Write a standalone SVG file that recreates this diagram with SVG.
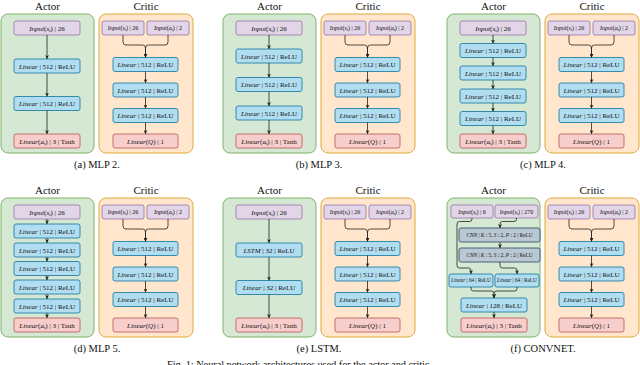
<svg xmlns="http://www.w3.org/2000/svg" width="640" height="365" viewBox="0 0 640 365">
<style>
.t{font-family:"Liberation Serif","Times New Roman",serif;fill:#111}
.n{font-size:7px;text-anchor:middle}
.s{font-size:6px;text-anchor:middle}
.xs{font-size:5.3px;text-anchor:middle}
.ti{font-size:11px;text-anchor:middle}
.cap{font-size:10.5px;text-anchor:middle}
.i{font-style:italic}
.sb{font-size:70%}
.actor{fill:#d5e8d4;stroke:#82b366;stroke-width:1}
.critic{fill:#ffe6cc;stroke:#e0a93a;stroke-width:1}
.pu{fill:#e1d5e7;stroke:#9673a6;stroke-width:0.8}
.bl{fill:#b1ddf0;stroke:#10739e;stroke-width:0.8}
.rd{fill:#f8cecc;stroke:#b85450;stroke-width:0.8}
.gy{fill:#bac8d3;stroke:#23445d;stroke-width:0.8}
.e{fill:none;stroke:#222;stroke-width:0.8;marker-end:url(#arr)}
</style>
<defs>
<marker id="arr" viewBox="0 0 10 10" refX="10" refY="5" markerWidth="4" markerHeight="4" markerUnits="userSpaceOnUse" orient="auto"><path d="M0,0 L10,5 L0,10 L3,5 z" fill="#222"/></marker>
</defs>
<rect width="640" height="365" fill="#fff"/>

<!-- ===== Panel (a) MLP 2 ===== -->
<g id="panel-a" transform="translate(1,0)">
<rect class="actor" x="0" y="14" width="93" height="139" rx="7"/>
<rect class="critic" x="98" y="14" width="94" height="139" rx="7"/>
<text class="t ti" x="46.5" y="9.5">Actor</text>
<text class="t ti" x="145" y="9.5">Critic</text>
<g id="a-actor-in"><rect class="pu" x="13" y="21" width="66" height="14" rx="2"/><text class="t n" x="46" y="30.5"><tspan class="i">Input</tspan>(<tspan class="i">s</tspan><tspan class="sb" dy="1.3">t</tspan><tspan dy="-1.3">) | 26</tspan></text></g>
<g id="a-actor-l1"><rect class="bl" x="13" y="59" width="66" height="14" rx="2"/><text class="t n" x="46" y="68.5"><tspan class="i">Linear</tspan> | 512 | ReLU</text></g>
<g id="a-actor-l2"><rect class="bl" x="13" y="96.5" width="66" height="14" rx="2"/><text class="t n" x="46" y="106"><tspan class="i">Linear</tspan> | 512 | ReLU</text></g>
<g id="a-actor-out"><rect class="rd" x="13" y="134" width="66" height="14" rx="2"/><text class="t n" x="46" y="143.5"><tspan class="i">Linear</tspan>(<tspan class="i">a</tspan><tspan class="sb" dy="1.3">t</tspan><tspan dy="-1.3">) | 3 | Tanh</tspan></text></g>
<g id="a-critic-in-s"><rect class="pu" x="101" y="21" width="42" height="14" rx="2"/><text class="t s" x="122" y="30.2"><tspan class="i">Input</tspan>(<tspan class="i">s</tspan><tspan class="sb" dy="1.2">t</tspan><tspan dy="-1.2">) | 26</tspan></text></g>
<g id="a-critic-in-a"><rect class="pu" x="146" y="21" width="42" height="14" rx="2"/><text class="t s" x="167" y="30.2"><tspan class="i">Input</tspan>(<tspan class="i">a</tspan><tspan class="sb" dy="1.2">t</tspan><tspan dy="-1.2">) | 2</tspan></text></g>
<g id="a-critic-l1"><rect class="bl" x="112" y="57.5" width="65" height="14" rx="2"/><text class="t n" x="144.5" y="67"><tspan class="i">Linear</tspan> | 512 | ReLU</text></g>
<g id="a-critic-l2"><rect class="bl" x="112" y="83" width="65" height="14" rx="2"/><text class="t n" x="144.5" y="92.5"><tspan class="i">Linear</tspan> | 512 | ReLU</text></g>
<g id="a-critic-l3"><rect class="bl" x="112" y="108.5" width="65" height="14" rx="2"/><text class="t n" x="144.5" y="118"><tspan class="i">Linear</tspan> | 512 | ReLU</text></g>
<g id="a-critic-out"><rect class="rd" x="112" y="134" width="65" height="14" rx="2"/><text class="t n" x="144.5" y="143.5"><tspan class="i">Linear</tspan>(<tspan class="i">Q</tspan>) | 1</text></g>
<g id="a-connectors">
<path class="e" d="M46,35 V59"/><path class="e" d="M46,73 V96.5"/><path class="e" d="M46,110.5 V134"/>
<path class="e" d="M122,35 V42 Q122,45 125,45 H141.5 Q144.5,45 144.5,48 V57.5"/>
<path class="e" d="M167,35 V42 Q167,45 164,45 H147.5 Q144.5,45 144.5,48 V57.5"/>
<path class="e" d="M144.5,71.5 V83"/><path class="e" d="M144.5,97 V108.5"/><path class="e" d="M144.5,122.5 V134"/>
</g>
<text class="t cap" x="96" y="168">(a) MLP 2.</text>
</g>

<!-- ===== Panel (b) MLP 3 ===== -->
<g id="panel-b" transform="translate(223,0)">
<rect class="actor" x="0" y="14" width="93" height="139" rx="7"/>
<rect class="critic" x="98" y="14" width="94" height="139" rx="7"/>
<text class="t ti" x="46.5" y="9.5">Actor</text>
<text class="t ti" x="145" y="9.5">Critic</text>
<g id="b-actor-in"><rect class="pu" x="13" y="21" width="66" height="14" rx="2"/><text class="t n" x="46" y="30.5"><tspan class="i">Input</tspan>(<tspan class="i">s</tspan><tspan class="sb" dy="1.3">t</tspan><tspan dy="-1.3">) | 26</tspan></text></g>
<g id="b-actor-l1"><rect class="bl" x="13" y="49" width="66" height="14" rx="2"/><text class="t n" x="46" y="58.5"><tspan class="i">Linear</tspan> | 512 | ReLU</text></g>
<g id="b-actor-l2"><rect class="bl" x="13" y="77.5" width="66" height="14" rx="2"/><text class="t n" x="46" y="87"><tspan class="i">Linear</tspan> | 512 | ReLU</text></g>
<g id="b-actor-l3"><rect class="bl" x="13" y="106" width="66" height="14" rx="2"/><text class="t n" x="46" y="115.5"><tspan class="i">Linear</tspan> | 512 | ReLU</text></g>
<g id="b-actor-out"><rect class="rd" x="13" y="134" width="66" height="14" rx="2"/><text class="t n" x="46" y="143.5"><tspan class="i">Linear</tspan>(<tspan class="i">a</tspan><tspan class="sb" dy="1.3">t</tspan><tspan dy="-1.3">) | 3 | Tanh</tspan></text></g>
<g id="b-critic-in-s"><rect class="pu" x="101" y="21" width="42" height="14" rx="2"/><text class="t s" x="122" y="30.2"><tspan class="i">Input</tspan>(<tspan class="i">s</tspan><tspan class="sb" dy="1.2">t</tspan><tspan dy="-1.2">) | 26</tspan></text></g>
<g id="b-critic-in-a"><rect class="pu" x="146" y="21" width="42" height="14" rx="2"/><text class="t s" x="167" y="30.2"><tspan class="i">Input</tspan>(<tspan class="i">a</tspan><tspan class="sb" dy="1.2">t</tspan><tspan dy="-1.2">) | 2</tspan></text></g>
<g id="b-critic-l1"><rect class="bl" x="112" y="57.5" width="65" height="14" rx="2"/><text class="t n" x="144.5" y="67"><tspan class="i">Linear</tspan> | 512 | ReLU</text></g>
<g id="b-critic-l2"><rect class="bl" x="112" y="83" width="65" height="14" rx="2"/><text class="t n" x="144.5" y="92.5"><tspan class="i">Linear</tspan> | 512 | ReLU</text></g>
<g id="b-critic-l3"><rect class="bl" x="112" y="108.5" width="65" height="14" rx="2"/><text class="t n" x="144.5" y="118"><tspan class="i">Linear</tspan> | 512 | ReLU</text></g>
<g id="b-critic-out"><rect class="rd" x="112" y="134" width="65" height="14" rx="2"/><text class="t n" x="144.5" y="143.5"><tspan class="i">Linear</tspan>(<tspan class="i">Q</tspan>) | 1</text></g>
<g id="b-connectors">
<path class="e" d="M46,35 V49"/><path class="e" d="M46,63 V77.5"/><path class="e" d="M46,91.5 V106"/><path class="e" d="M46,120 V134"/>
<path class="e" d="M122,35 V42 Q122,45 125,45 H141.5 Q144.5,45 144.5,48 V57.5"/>
<path class="e" d="M167,35 V42 Q167,45 164,45 H147.5 Q144.5,45 144.5,48 V57.5"/>
<path class="e" d="M144.5,71.5 V83"/><path class="e" d="M144.5,97 V108.5"/><path class="e" d="M144.5,122.5 V134"/>
</g>
<text class="t cap" x="96" y="168">(b) MLP 3.</text>
</g>

<!-- ===== Panel (c) MLP 4 ===== -->
<g id="panel-c" transform="translate(447,0)">
<rect class="actor" x="0" y="14" width="93" height="139" rx="7"/>
<rect class="critic" x="98" y="14" width="94" height="139" rx="7"/>
<text class="t ti" x="46.5" y="9.5">Actor</text>
<text class="t ti" x="145" y="9.5">Critic</text>
<g id="c-actor-in"><rect class="pu" x="13" y="21" width="66" height="14" rx="2"/><text class="t n" x="46" y="30.5"><tspan class="i">Input</tspan>(<tspan class="i">s</tspan><tspan class="sb" dy="1.3">t</tspan><tspan dy="-1.3">) | 26</tspan></text></g>
<g id="c-actor-l1"><rect class="bl" x="13" y="43.5" width="66" height="14" rx="2"/><text class="t n" x="46" y="53"><tspan class="i">Linear</tspan> | 512 | ReLU</text></g>
<g id="c-actor-l2"><rect class="bl" x="13" y="66" width="66" height="14" rx="2"/><text class="t n" x="46" y="75.5"><tspan class="i">Linear</tspan> | 512 | ReLU</text></g>
<g id="c-actor-l3"><rect class="bl" x="13" y="89" width="66" height="14" rx="2"/><text class="t n" x="46" y="98.5"><tspan class="i">Linear</tspan> | 512 | ReLU</text></g>
<g id="c-actor-l4"><rect class="bl" x="13" y="111.5" width="66" height="14" rx="2"/><text class="t n" x="46" y="121"><tspan class="i">Linear</tspan> | 512 | ReLU</text></g>
<g id="c-actor-out"><rect class="rd" x="13" y="134" width="66" height="14" rx="2"/><text class="t n" x="46" y="143.5"><tspan class="i">Linear</tspan>(<tspan class="i">a</tspan><tspan class="sb" dy="1.3">t</tspan><tspan dy="-1.3">) | 3 | Tanh</tspan></text></g>
<g id="c-critic-in-s"><rect class="pu" x="101" y="21" width="42" height="14" rx="2"/><text class="t s" x="122" y="30.2"><tspan class="i">Input</tspan>(<tspan class="i">s</tspan><tspan class="sb" dy="1.2">t</tspan><tspan dy="-1.2">) | 26</tspan></text></g>
<g id="c-critic-in-a"><rect class="pu" x="146" y="21" width="42" height="14" rx="2"/><text class="t s" x="167" y="30.2"><tspan class="i">Input</tspan>(<tspan class="i">a</tspan><tspan class="sb" dy="1.2">t</tspan><tspan dy="-1.2">) | 2</tspan></text></g>
<g id="c-critic-l1"><rect class="bl" x="112" y="57.5" width="65" height="14" rx="2"/><text class="t n" x="144.5" y="67"><tspan class="i">Linear</tspan> | 512 | ReLU</text></g>
<g id="c-critic-l2"><rect class="bl" x="112" y="83" width="65" height="14" rx="2"/><text class="t n" x="144.5" y="92.5"><tspan class="i">Linear</tspan> | 512 | ReLU</text></g>
<g id="c-critic-l3"><rect class="bl" x="112" y="108.5" width="65" height="14" rx="2"/><text class="t n" x="144.5" y="118"><tspan class="i">Linear</tspan> | 512 | ReLU</text></g>
<g id="c-critic-out"><rect class="rd" x="112" y="134" width="65" height="14" rx="2"/><text class="t n" x="144.5" y="143.5"><tspan class="i">Linear</tspan>(<tspan class="i">Q</tspan>) | 1</text></g>
<g id="c-connectors">
<path class="e" d="M46,35 V43.5"/><path class="e" d="M46,57.5 V66"/><path class="e" d="M46,80 V89"/><path class="e" d="M46,103 V111.5"/><path class="e" d="M46,125.5 V134"/>
<path class="e" d="M122,35 V42 Q122,45 125,45 H141.5 Q144.5,45 144.5,48 V57.5"/>
<path class="e" d="M167,35 V42 Q167,45 164,45 H147.5 Q144.5,45 144.5,48 V57.5"/>
<path class="e" d="M144.5,71.5 V83"/><path class="e" d="M144.5,97 V108.5"/><path class="e" d="M144.5,122.5 V134"/>
</g>
<text class="t cap" x="96" y="168">(c) MLP 4.</text>
</g>

<!-- ===== Panel (d) MLP 5 ===== -->
<g id="panel-d" transform="translate(1,184)">
<rect class="actor" x="0" y="14" width="93" height="139" rx="7"/>
<rect class="critic" x="98" y="14" width="94" height="139" rx="7"/>
<text class="t ti" x="46.5" y="9.5">Actor</text>
<text class="t ti" x="145" y="9.5">Critic</text>
<g id="d-actor-in"><rect class="pu" x="13" y="21" width="66" height="14" rx="2"/><text class="t n" x="46" y="30.5"><tspan class="i">Input</tspan>(<tspan class="i">s</tspan><tspan class="sb" dy="1.3">t</tspan><tspan dy="-1.3">) | 26</tspan></text></g>
<g id="d-actor-l1"><rect class="bl" x="13" y="40" width="66" height="14" rx="2"/><text class="t n" x="46" y="49.5"><tspan class="i">Linear</tspan> | 512 | ReLU</text></g>
<g id="d-actor-l2"><rect class="bl" x="13" y="59" width="66" height="14" rx="2"/><text class="t n" x="46" y="68.5"><tspan class="i">Linear</tspan> | 512 | ReLU</text></g>
<g id="d-actor-l3"><rect class="bl" x="13" y="77.5" width="66" height="14" rx="2"/><text class="t n" x="46" y="87"><tspan class="i">Linear</tspan> | 512 | ReLU</text></g>
<g id="d-actor-l4"><rect class="bl" x="13" y="96" width="66" height="14" rx="2"/><text class="t n" x="46" y="105.5"><tspan class="i">Linear</tspan> | 512 | ReLU</text></g>
<g id="d-actor-l5"><rect class="bl" x="13" y="115" width="66" height="14" rx="2"/><text class="t n" x="46" y="124.5"><tspan class="i">Linear</tspan> | 512 | ReLU</text></g>
<g id="d-actor-out"><rect class="rd" x="13" y="134" width="66" height="14" rx="2"/><text class="t n" x="46" y="143.5"><tspan class="i">Linear</tspan>(<tspan class="i">a</tspan><tspan class="sb" dy="1.3">t</tspan><tspan dy="-1.3">) | 3 | Tanh</tspan></text></g>
<g id="d-critic-in-s"><rect class="pu" x="101" y="21" width="42" height="14" rx="2"/><text class="t s" x="122" y="30.2"><tspan class="i">Input</tspan>(<tspan class="i">s</tspan><tspan class="sb" dy="1.2">t</tspan><tspan dy="-1.2">) | 26</tspan></text></g>
<g id="d-critic-in-a"><rect class="pu" x="146" y="21" width="42" height="14" rx="2"/><text class="t s" x="167" y="30.2"><tspan class="i">Input</tspan>(<tspan class="i">a</tspan><tspan class="sb" dy="1.2">t</tspan><tspan dy="-1.2">) | 2</tspan></text></g>
<g id="d-critic-l1"><rect class="bl" x="112" y="57.5" width="65" height="14" rx="2"/><text class="t n" x="144.5" y="67"><tspan class="i">Linear</tspan> | 512 | ReLU</text></g>
<g id="d-critic-l2"><rect class="bl" x="112" y="83" width="65" height="14" rx="2"/><text class="t n" x="144.5" y="92.5"><tspan class="i">Linear</tspan> | 512 | ReLU</text></g>
<g id="d-critic-l3"><rect class="bl" x="112" y="108.5" width="65" height="14" rx="2"/><text class="t n" x="144.5" y="118"><tspan class="i">Linear</tspan> | 512 | ReLU</text></g>
<g id="d-critic-out"><rect class="rd" x="112" y="134" width="65" height="14" rx="2"/><text class="t n" x="144.5" y="143.5"><tspan class="i">Linear</tspan>(<tspan class="i">Q</tspan>) | 1</text></g>
<g id="d-connectors">
<path class="e" d="M46,35 V40"/><path class="e" d="M46,54 V59"/><path class="e" d="M46,73 V77.5"/><path class="e" d="M46,91.5 V96"/><path class="e" d="M46,110 V115"/><path class="e" d="M46,129 V134"/>
<path class="e" d="M122,35 V42 Q122,45 125,45 H141.5 Q144.5,45 144.5,48 V57.5"/>
<path class="e" d="M167,35 V42 Q167,45 164,45 H147.5 Q144.5,45 144.5,48 V57.5"/>
<path class="e" d="M144.5,71.5 V83"/><path class="e" d="M144.5,97 V108.5"/><path class="e" d="M144.5,122.5 V134"/>
</g>
<text class="t cap" x="96" y="168">(d) MLP 5.</text>
</g>

<!-- ===== Panel (e) LSTM ===== -->
<g id="panel-e" transform="translate(223,184)">
<rect class="actor" x="0" y="14" width="93" height="139" rx="7"/>
<rect class="critic" x="98" y="14" width="94" height="139" rx="7"/>
<text class="t ti" x="46.5" y="9.5">Actor</text>
<text class="t ti" x="145" y="9.5">Critic</text>
<g id="e-actor-in"><rect class="pu" x="13" y="21" width="66" height="14" rx="2"/><text class="t n" x="46" y="30.5"><tspan class="i">Input</tspan>(<tspan class="i">s</tspan><tspan class="sb" dy="1.3">t</tspan><tspan dy="-1.3">) | 26</tspan></text></g>
<g id="e-actor-lstm"><rect class="bl" x="13" y="59" width="66" height="14" rx="2"/><text class="t n" x="46" y="68.5"><tspan class="i">LSTM</tspan> | 32 | ReLU</text></g>
<g id="e-actor-l1"><rect class="bl" x="13" y="96.5" width="66" height="14" rx="2"/><text class="t n" x="46" y="106"><tspan class="i">Linear</tspan> | 32 | ReLU</text></g>
<g id="e-actor-out"><rect class="rd" x="13" y="134" width="66" height="14" rx="2"/><text class="t n" x="46" y="143.5"><tspan class="i">Linear</tspan>(<tspan class="i">a</tspan><tspan class="sb" dy="1.3">t</tspan><tspan dy="-1.3">) | 3 | Tanh</tspan></text></g>
<g id="e-critic-in-s"><rect class="pu" x="101" y="21" width="42" height="14" rx="2"/><text class="t s" x="122" y="30.2"><tspan class="i">Input</tspan>(<tspan class="i">s</tspan><tspan class="sb" dy="1.2">t</tspan><tspan dy="-1.2">) | 26</tspan></text></g>
<g id="e-critic-in-a"><rect class="pu" x="146" y="21" width="42" height="14" rx="2"/><text class="t s" x="167" y="30.2"><tspan class="i">Input</tspan>(<tspan class="i">a</tspan><tspan class="sb" dy="1.2">t</tspan><tspan dy="-1.2">) | 2</tspan></text></g>
<g id="e-critic-l1"><rect class="bl" x="112" y="57.5" width="65" height="14" rx="2"/><text class="t n" x="144.5" y="67"><tspan class="i">Linear</tspan> | 512 | ReLU</text></g>
<g id="e-critic-l2"><rect class="bl" x="112" y="83" width="65" height="14" rx="2"/><text class="t n" x="144.5" y="92.5"><tspan class="i">Linear</tspan> | 512 | ReLU</text></g>
<g id="e-critic-l3"><rect class="bl" x="112" y="108.5" width="65" height="14" rx="2"/><text class="t n" x="144.5" y="118"><tspan class="i">Linear</tspan> | 512 | ReLU</text></g>
<g id="e-critic-out"><rect class="rd" x="112" y="134" width="65" height="14" rx="2"/><text class="t n" x="144.5" y="143.5"><tspan class="i">Linear</tspan>(<tspan class="i">Q</tspan>) | 1</text></g>
<g id="e-connectors">
<path class="e" d="M46,35 V59"/><path class="e" d="M46,73 V96.5"/><path class="e" d="M46,110.5 V134"/>
<path class="e" d="M122,35 V42 Q122,45 125,45 H141.5 Q144.5,45 144.5,48 V57.5"/>
<path class="e" d="M167,35 V42 Q167,45 164,45 H147.5 Q144.5,45 144.5,48 V57.5"/>
<path class="e" d="M144.5,71.5 V83"/><path class="e" d="M144.5,97 V108.5"/><path class="e" d="M144.5,122.5 V134"/>
</g>
<text class="t cap" x="96" y="168">(e) LSTM.</text>
</g>

<!-- ===== Panel (f) CONVNET ===== -->
<g id="panel-f" transform="translate(447,184)">
<rect class="actor" x="0" y="14" width="93" height="139" rx="7"/>
<rect class="critic" x="98" y="14" width="94" height="139" rx="7"/>
<text class="t ti" x="46.5" y="9.5">Actor</text>
<text class="t ti" x="145" y="9.5">Critic</text>
<g id="f-actor-in6"><rect class="pu" x="4" y="21" width="42" height="13" rx="2"/><text class="t s" x="25" y="29.6"><tspan class="i">Input</tspan>(<tspan class="i">s</tspan><tspan class="sb" dy="1.2">t</tspan><tspan dy="-1.2">) | 6</tspan></text></g>
<g id="f-actor-in270"><rect class="pu" x="48" y="21" width="43" height="13" rx="2"/><text class="t s" x="69.5" y="29.6"><tspan class="i">Input</tspan>(<tspan class="i">s</tspan><tspan class="sb" dy="1.2">t</tspan><tspan dy="-1.2">) | 270</tspan></text></g>
<g id="f-actor-cnn1"><rect class="gy" x="12" y="44" width="81" height="14" rx="2"/><text class="t xs" x="52.5" y="52.8"><tspan class="i">CNN</tspan> | <tspan class="i">K</tspan> : 5, <tspan class="i">S</tspan> : 2, <tspan class="i">P</tspan> : 2 | ReLU</text></g>
<g id="f-actor-cnn2"><rect class="gy" x="12" y="64" width="81" height="14" rx="2"/><text class="t xs" x="52.5" y="72.8"><tspan class="i">CNN</tspan> | <tspan class="i">K</tspan> : 5, <tspan class="i">S</tspan> : 2, <tspan class="i">P</tspan> : 2 | ReLU</text></g>
<g id="f-actor-l64a"><rect class="bl" x="2" y="90" width="44" height="13" rx="2"/><text class="t xs" x="24" y="98.3"><tspan class="i">Linear</tspan> | 64 | ReLU</text></g>
<g id="f-actor-l64b"><rect class="bl" x="48" y="90" width="44" height="13" rx="2"/><text class="t xs" x="70" y="98.3"><tspan class="i">Linear</tspan> | 64 | ReLU</text></g>
<g id="f-actor-l128"><rect class="bl" x="14" y="114" width="66" height="14" rx="2"/><text class="t n" x="47" y="123.5"><tspan class="i">Linear</tspan> | 128 | ReLU</text></g>
<g id="f-actor-out"><rect class="rd" x="14" y="134" width="66" height="14" rx="2"/><text class="t n" x="47" y="143.5"><tspan class="i">Linear</tspan>(<tspan class="i">a</tspan><tspan class="sb" dy="1.3">t</tspan><tspan dy="-1.3">) | 3 | Tanh</tspan></text></g>
<g id="f-critic-in-s"><rect class="pu" x="101" y="21" width="42" height="14" rx="2"/><text class="t s" x="122" y="30.2"><tspan class="i">Input</tspan>(<tspan class="i">s</tspan><tspan class="sb" dy="1.2">t</tspan><tspan dy="-1.2">) | 26</tspan></text></g>
<g id="f-critic-in-a"><rect class="pu" x="146" y="21" width="42" height="14" rx="2"/><text class="t s" x="167" y="30.2"><tspan class="i">Input</tspan>(<tspan class="i">a</tspan><tspan class="sb" dy="1.2">t</tspan><tspan dy="-1.2">) | 2</tspan></text></g>
<g id="f-critic-l1"><rect class="bl" x="112" y="57.5" width="65" height="14" rx="2"/><text class="t n" x="144.5" y="67"><tspan class="i">Linear</tspan> | 512 | ReLU</text></g>
<g id="f-critic-l2"><rect class="bl" x="112" y="83" width="65" height="14" rx="2"/><text class="t n" x="144.5" y="92.5"><tspan class="i">Linear</tspan> | 512 | ReLU</text></g>
<g id="f-critic-l3"><rect class="bl" x="112" y="108.5" width="65" height="14" rx="2"/><text class="t n" x="144.5" y="118"><tspan class="i">Linear</tspan> | 512 | ReLU</text></g>
<g id="f-critic-out"><rect class="rd" x="112" y="134" width="65" height="14" rx="2"/><text class="t n" x="144.5" y="143.5"><tspan class="i">Linear</tspan>(<tspan class="i">Q</tspan>) | 1</text></g>
<g id="f-connectors">
<path class="e" d="M25,34 V35 Q25,37.5 22.5,37.5 H12.5 Q10,37.5 10,40 V81.5 Q10,84 12.5,84 H21.5 Q24,84 24,86.5 V90"/>
<path class="e" d="M69.5,34 V35 Q69.5,37.5 67,37.5 H55.5 Q53,37.5 53,40 V44"/>
<path class="e" d="M53,58 V64"/>
<path class="e" d="M53,78 V81.5 Q53,84 55.5,84 H67.5 Q70,84 70,86.5 V90"/>
<path class="e" d="M24,103 V104.5 Q24,107 26.5,107 H44.5 Q47,107 47,109.5 V114"/>
<path class="e" d="M70,103 V104.5 Q70,107 67.5,107 H49.5 Q47,107 47,109.5 V114"/>
<path class="e" d="M47,128 V134"/>
<path class="e" d="M122,35 V42 Q122,45 125,45 H141.5 Q144.5,45 144.5,48 V57.5"/>
<path class="e" d="M167,35 V42 Q167,45 164,45 H147.5 Q144.5,45 144.5,48 V57.5"/>
<path class="e" d="M144.5,71.5 V83"/><path class="e" d="M144.5,97 V108.5"/><path class="e" d="M144.5,122.5 V134"/>
</g>
<text class="t cap" x="96" y="168">(f) CONVNET.</text>
</g>

<text class="t" x="167" y="367.5" font-size="10.5" textLength="265" lengthAdjust="spacing">Fig. 1: Neural network architectures used for the actor and critic.</text>
</svg>
